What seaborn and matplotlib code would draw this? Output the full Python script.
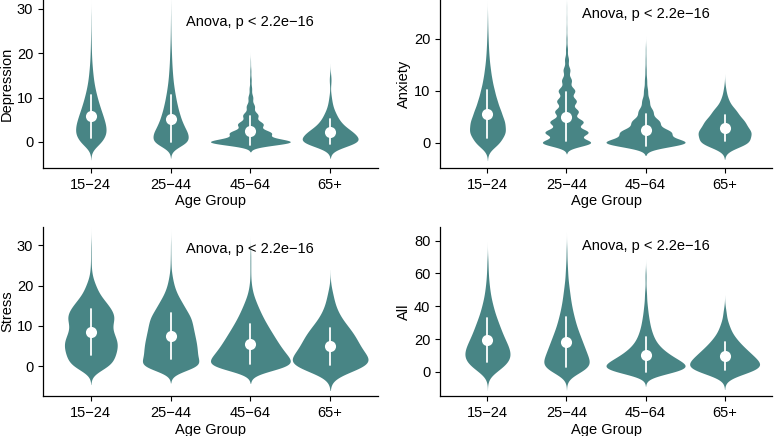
import numpy as np
import pandas as pd
import matplotlib
matplotlib.use("Agg")
import matplotlib.pyplot as plt
import seaborn as sns

# age groups shown on every panel
groups = ["15\u221224", "25\u221244", "45\u221264", "65+"]

# score values (scores are even numbers) and how many people had each score
score_values = [0, 2, 4, 6, 8, 10, 12, 14, 16, 18, 20, 22, 24, 26, 28, 30, 32, 34, 36, 38,
                40, 42, 44, 46, 48, 50, 52, 54, 56, 58, 60, 62, 64, 66, 68, 70, 72, 74]

dep_15_24 = [91, 125, 116, 94, 70, 50, 33, 21, 14, 8, 5, 3, 2, 1, 1]
dep_25_44 = [355, 322, 230, 172, 128, 94, 66, 45, 32, 22, 16, 10, 6, 4, 2, 1]
dep_45_64 = [754, 377, 232, 139, 75, 44, 23, 15, 9, 3]
dep_65 = [26, 19, 9, 5, 2, 1, 0, 1]

anx_15_24 = [147, 214, 200, 155, 112, 80, 53, 35, 21, 13, 8, 4, 2]
anx_25_44 = [2800, 2460, 1900, 1340, 1120, 950, 560, 390, 225, 112, 56, 28, 17, 11]
anx_45_64 = [330, 200, 110, 58, 30, 16, 9, 5, 3, 2]
anx_65 = [19, 20, 15, 9, 3, 1]

str_15_24 = [72, 84, 93, 97, 82, 72, 88, 76, 53, 29, 18, 6, 2, 1, 1, 1]
str_25_44 = [179, 147, 147, 141, 131, 122, 114, 86, 61, 35, 19, 10, 3, 2, 1, 1]
str_45_64 = [120, 104, 86, 72, 59, 46, 34, 24, 15, 7, 3, 1, 1, 1, 1]
str_65 = [15, 11, 9, 8, 7, 5, 3, 2, 1, 1]

all_15_24 = [16, 24, 30, 36, 38, 40, 38, 36, 34, 32, 28, 26, 24, 22, 20, 18, 16, 14,
             12, 10, 10, 8, 6, 6, 4, 4, 4, 2, 2, 2, 2, 0, 2, 0, 2]
all_25_44 = [64, 80, 84, 76, 72, 68, 64, 60, 56, 52, 48, 44, 40, 36, 32, 28, 28, 24,
             20, 20, 16, 16, 12, 12, 12, 8, 8, 8, 4, 4, 4, 4, 4, 0, 4, 0, 0, 4]
all_45_64 = [80, 88, 80, 68, 56, 46, 38, 30, 24, 20, 16, 14, 12, 10, 8, 8, 6, 6,
             4, 4, 4, 2, 2, 2, 2, 2, 0, 0, 2, 0, 2]
all_65 = [8, 8, 7, 7, 6, 5, 5, 4, 3, 3, 2, 2, 1, 1, 1, 1, 0, 0, 1]

teal = "#488585"


def make_frame(counts_list):
    rows = []
    for g, counts in zip(groups, counts_list):
        scores = np.repeat(score_values[:len(counts)], counts)
        rows.append(pd.DataFrame({"group": g, "score": scores}))
    return pd.concat(rows, ignore_index=True)


panels = [
    ("Depression", [dep_15_24, dep_25_44, dep_45_64, dep_65], (-5.9, 32), [0, 10, 20, 30], 27.0),
    ("Anxiety", [anx_15_24, anx_25_44, anx_45_64, anx_65], (-4.9, 27.5), [0, 10, 20], 24.8),
    ("Stress", [str_15_24, str_25_44, str_45_64, str_65], (-7.4, 34.6), [0, 10, 20, 30], 29.1),
    ("All", [all_15_24, all_25_44, all_45_64, all_65], (-14.8, 88.4), [0, 20, 40, 60, 80], 76.7),
]

sns.set_style("ticks")
plt.rcParams["font.family"] = ["Liberation Sans", "DejaVu Sans"]

fig = plt.figure(figsize=(7.77, 4.36), dpi=100)
boxes = [
    [0.0553, 0.6147, 0.4312, 0.3853],
    [0.5663, 0.6147, 0.4273, 0.3853],
    [0.0553, 0.0917, 0.4312, 0.3877],
    [0.5663, 0.0917, 0.4273, 0.3877],
]

for box, (name, counts_list, ylim, yticks, label_y) in zip(boxes, panels):
    ax = fig.add_axes(box)
    df = make_frame(counts_list)
    sns.violinplot(data=df, x="group", y="score", order=groups, color=teal,
                   saturation=1, inner=None, density_norm="area", cut=3,
                   width=1.0, linewidth=0, gridsize=300, ax=ax)
    sns.pointplot(data=df, x="group", y="score", order=groups, color="white",
                  errorbar="sd", linestyle="none", markersize=8,
                  markeredgewidth=0, err_kws={"linewidth": 1.3}, ax=ax)
    ax.set_xlim(-0.6, 3.6)
    ax.set_ylim(*ylim)
    ax.set_yticks(yticks)
    ax.set_xlabel("Age Group", fontsize=10.5, labelpad=2, color="black")
    ax.set_ylabel(name, fontsize=10.5, labelpad=2, color="black")
    ax.tick_params(labelsize=10.5, length=3.5, width=0.8, colors="black")
    for s in ["left", "bottom"]:
        ax.spines[s].set_linewidth(0.9)
        ax.spines[s].set_color("black")
    sns.despine(ax=ax)
    ax.text(1.19, label_y, "Anova, p < 2.2e\u221216", fontsize=10.5, color="black",
            va="center", ha="left")

fig.savefig("out.png", dpi=100)
